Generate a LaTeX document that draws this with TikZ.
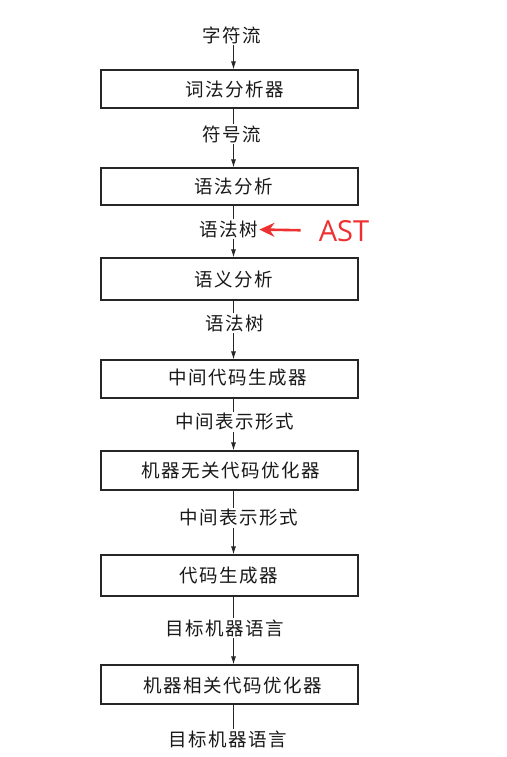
\documentclass[tikz,border=0pt]{standalone}
\usepackage{fontspec}
\newfontfamily\cjk{Noto Sans CJK SC}[LetterSpace=8]
\newfontfamily\latn{Open Sans}
\usetikzlibrary{arrows.meta}
\definecolor{astred}{RGB}{238,48,48}
\begin{document}
\begin{tikzpicture}[x=1pt,y=-1pt,
  lab/.style={font=\cjk\fontsize{18.5}{18.5}\selectfont, text=black!90, inner sep=1.5pt},
  box/.style={draw=black!85, line width=1.2pt, minimum width=257pt, inner sep=0pt},
  link/.style={draw=black!85, line width=0.9pt},
  flow/.style={link, -{Latex[length=8pt,width=5pt]}}]
\useasboundingbox (0,0) rectangle (506,757);
\coordinate (spine) at (233.5,0);
% 各阶段
\node[box, minimum height=38pt] (lex) at (229.5,89) {};
\node[box, minimum height=37pt] (syn) at (229.5,186.5) {};
\node[box, minimum height=42pt] (sem) at (229.5,279) {};
\node[box, minimum height=38pt] (irgen) at (229.5,379) {};
\node[box, minimum height=39pt] (mio) at (229.5,470.5) {};
\node[box, minimum height=41pt] (cgen) at (229.5,575.5) {};
\node[box, minimum height=39pt] (mdo) at (229.5,684.5) {};
\node[lab] at (235,89) {词法分析器};
\node[lab] at (234,186.5) {语法分析};
\node[lab] at (234,279) {语义分析};
\node[lab] at (238,378) {中间代码生成器};
\node[lab] at (231,470) {机器无关代码优化器};
\node[lab] at (229,576) {代码生成器};
\node[lab] at (233,685) {机器相关代码优化器};
% 中间结果
\node[lab] (chars) at (232,35) {字符流};
\node[lab] (toks) at (232,134) {符号流};
\node[lab] (tree) at (228.5,229) {语法树};
\node[lab] (tree2) at (235,323) {语法树};
\node[lab] (ir) at (235,422) {中间表示形式};
\node[lab] (ir2) at (239,518) {中间表示形式};
\node[lab] (tgt) at (225,628) {目标机器语言};
\node[lab] (tgt2) at (228,739) {目标机器语言};
% 连线
\draw[flow] (chars.south -| spine) -- (lex.north -| spine);
\draw[link] (lex.south -| spine) -- (toks.north -| spine);
\draw[flow] (toks.south -| spine) -- (syn.north -| spine);
\draw[link] (syn.south -| spine) -- (tree.north -| spine);
\draw[flow] (tree.south -| spine) -- (sem.north -| spine);
\draw[link] (sem.south -| spine) -- (tree2.north -| spine);
\draw[flow] (tree2.south -| spine) -- (irgen.north -| spine);
\draw[link] (irgen.south -| spine) -- (ir.north -| spine);
\draw[flow] (ir.south -| spine) -- (mio.north -| spine);
\draw[link] (mio.south -| spine) -- (ir2.north -| spine);
\draw[flow] (ir2.south -| spine) -- (cgen.north -| spine);
\draw[link] (cgen.south -| spine) -- (tgt.north -| spine);
\draw[flow] (tgt.south -| spine) -- (mdo.north -| spine);
\draw[link] (mdo.south -| spine) -- (tgt2.north -| spine);
% AST 标注
\node[font=\latn\fontsize{29}{29}\selectfont, text=astred, inner sep=0pt] (ast) at (344,231) {AST};
\draw[astred, line width=2.6pt, shorten <=18pt, -{Stealth[length=15pt,width=14pt]}] (ast) -- (tree);
\end{tikzpicture}
\end{document}
